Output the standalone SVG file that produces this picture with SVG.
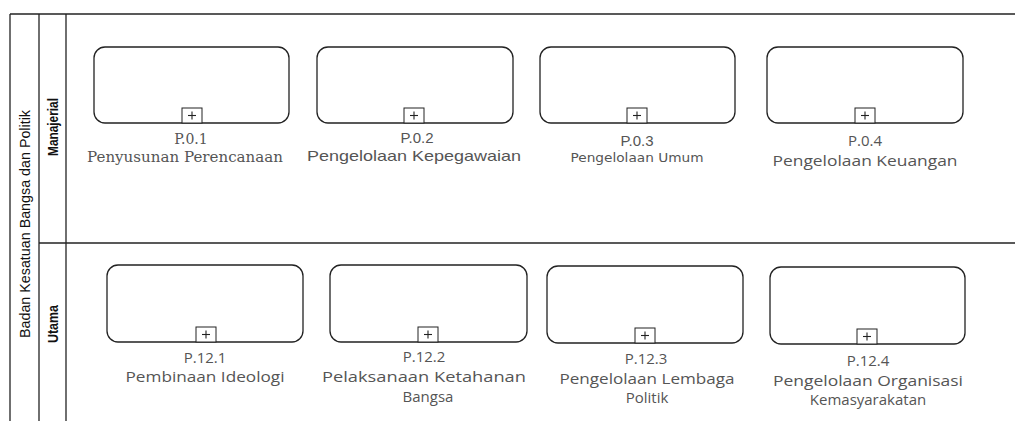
<svg xmlns="http://www.w3.org/2000/svg" width="1015" height="421" viewBox="0 0 1015 421">
<style>
.ln{stroke:#222;stroke-width:1.3;fill:none}
.box{fill:#fff;stroke:#222;stroke-width:1.3}
.mk{fill:#fff;stroke:#222;stroke-width:1}
.pl{stroke:#222;stroke-width:1.1}
.lane{font-family:"Liberation Sans",Arial,sans-serif;fill:#111}
.t{fill:#555;text-anchor:middle}
.f1{font-family:"DejaVu Serif","Liberation Serif",serif;font-size:14px}
.f2{font-family:"Liberation Sans",Arial,sans-serif;font-size:15px}
.f3{font-family:"DejaVu Sans",Verdana,sans-serif;font-size:12px}
.f4{font-family:"Open Sans","Noto Sans",sans-serif;font-size:15px}
</style>
<defs>
<g id="plus">
<rect class="mk" x="-10" y="-15" width="20" height="15"/>
<line class="pl" x1="-4" y1="-7.5" x2="4" y2="-7.5"/>
<line class="pl" x1="0" y1="-11.5" x2="0" y2="-3.5"/>
</g>
</defs>
<rect x="0" y="0" width="1015" height="421" fill="#fff"/>
<g id="pool">
<line class="ln" x1="10" y1="14" x2="1015" y2="14"/>
<line class="ln" x1="10" y1="14" x2="10" y2="421"/>
<line class="ln" x1="39" y1="14" x2="39" y2="421"/>
<line class="ln" x1="66" y1="14" x2="66" y2="421"/>
<line class="ln" x1="39" y1="243" x2="1015" y2="243"/>
<text class="lane" transform="translate(30,224) rotate(-90)" text-anchor="middle" font-size="15" textLength="228" lengthAdjust="spacingAndGlyphs">Badan Kesatuan Bangsa dan Politik</text>
<text class="lane" transform="translate(58,127) rotate(-90)" text-anchor="middle" font-size="15" font-weight="bold" textLength="58" lengthAdjust="spacingAndGlyphs">Manajerial</text>
<text class="lane" transform="translate(58,324) rotate(-90)" text-anchor="middle" font-size="15" font-weight="bold" textLength="38" lengthAdjust="spacingAndGlyphs">Utama</text>
</g>
<g id="connectors"></g>
<g id="p01">
<rect class="box" x="94" y="47" width="195" height="76" rx="11"/>
<use href="#plus" x="192" y="123"/>
<text class="t f1" x="191" y="144">P.0.1</text>
<text class="t f1" x="185" y="162" textLength="196" lengthAdjust="spacingAndGlyphs">Penyusunan Perencanaan</text>
</g>
<g id="p02">
<rect class="box" x="317" y="47" width="196" height="76" rx="11"/>
<use href="#plus" x="414" y="123"/>
<text class="t f2" x="417" y="143">P.0.2</text>
<text class="t f2" x="414" y="161" textLength="214" lengthAdjust="spacingAndGlyphs">Pengelolaan Kepegawaian</text>
</g>
<g id="p03">
<rect class="box" x="540" y="47" width="195" height="76" rx="11"/>
<use href="#plus" x="637" y="123"/>
<text class="t f2" x="637" y="146" font-size="14">P.0.3</text>
<text class="t f3" x="637" y="162" textLength="133" lengthAdjust="spacingAndGlyphs">Pengelolaan Umum</text>
</g>
<g id="p04">
<rect class="box" x="767" y="47" width="196" height="76" rx="11"/>
<use href="#plus" x="865" y="123"/>
<text class="t f4" x="865" y="146">P.0.4</text>
<text class="t f4" x="865" y="166" textLength="185" lengthAdjust="spacingAndGlyphs">Pengelolaan Keuangan</text>
</g>
<g id="p121">
<rect class="box" x="107" y="265" width="196" height="77" rx="11"/>
<use href="#plus" x="206" y="342"/>
<text class="t f4" x="205" y="363">P.12.1</text>
<text class="t f4" x="205" y="382" textLength="159" lengthAdjust="spacingAndGlyphs">Pembinaan Ideologi</text>
</g>
<g id="p122">
<rect class="box" x="330" y="265" width="197" height="77" rx="11"/>
<use href="#plus" x="428" y="342"/>
<text class="t f4" x="424" y="362">P.12.2</text>
<text class="t f4" x="424" y="382" textLength="204" lengthAdjust="spacingAndGlyphs">Pelaksanaan Ketahanan</text>
<text class="t f4" x="428" y="402">Bangsa</text>
</g>
<g id="p123">
<rect class="box" x="547" y="266" width="196" height="77" rx="11"/>
<use href="#plus" x="645" y="343"/>
<text class="t f4" x="646" y="364">P.12.3</text>
<text class="t f4" x="647" y="384" textLength="175" lengthAdjust="spacingAndGlyphs">Pengelolaan Lembaga</text>
<text class="t f4" x="647" y="403">Politik</text>
</g>
<g id="p124">
<rect class="box" x="770" y="267" width="195" height="77" rx="11"/>
<use href="#plus" x="867" y="344"/>
<text class="t f4" x="868" y="366">P.12.4</text>
<text class="t f4" x="868" y="386" textLength="190" lengthAdjust="spacingAndGlyphs">Pengelolaan Organisasi</text>
<text class="t f4" x="868" y="405">Kemasyarakatan</text>
</g>
</svg>
